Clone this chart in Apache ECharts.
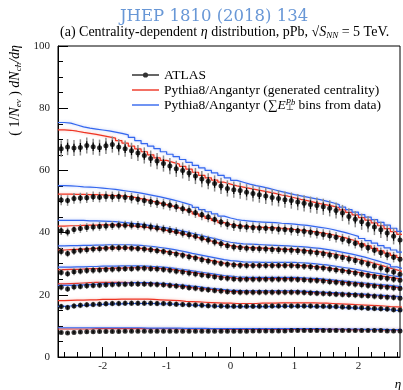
<!DOCTYPE html>
<html>
<head>
<meta charset="utf-8">
<title>Centrality-dependent eta distribution, pPb 5 TeV</title>
<script src="https://cdn.jsdelivr.net/npm/echarts@6/dist/echarts.min.js"></script>
<style>
  html, body { margin: 0; padding: 0; background: #fff; }
  #main { width: 403px; height: 390px; }
</style>
</head>
<body>
<div id="main"></div>
<script>
// eta bin centres (bins are 0.1 wide)
var etaBins = [
  -2.65, -2.55, -2.45, -2.35, -2.25, -2.15, -2.05, -1.95, -1.85,
  -1.75, -1.65, -1.55, -1.45, -1.35, -1.25, -1.15, -1.05, -0.95,
  -0.85, -0.75, -0.65, -0.55, -0.45, -0.35, -0.25, -0.15, -0.05,
  0.05, 0.15, 0.25, 0.35, 0.45, 0.55, 0.65, 0.75, 0.85,
  0.95, 1.05, 1.15, 1.25, 1.35, 1.45, 1.55, 1.65, 1.75,
  1.85, 1.95, 2.05, 2.15, 2.25, 2.35, 2.45, 2.55, 2.65
];
var binHalf = 0.05;

// x axis ticks
var etaMajorTicks = [-2, -1, 0, 1, 2];
var etaMinorTicks = [-2.6, -2.4, -2.2, -1.8, -1.6, -1.4, -1.2, -0.8, -0.6, -0.4, -0.2,
  0.2, 0.4, 0.6, 0.8, 1.2, 1.4, 1.6, 1.8, 2.2, 2.4, 2.6];

var centralities = ['0-1%', '1-5%', '5-10%', '10-20%', '20-30%', '30-40%', '40-60%', '60-90%'];

// ATLAS data
var atlas0to1 = [
  67.0, 67.5, 67.2, 67.4, 68.0, 67.6, 67.3, 67.9, 68.3,
  67.5, 67.0, 66.3, 65.6, 64.8, 63.8, 63.0, 62.2, 61.4,
  60.5, 60.0, 59.2, 58.2, 57.2, 56.5, 55.8, 55.0, 54.2,
  53.8, 53.5, 53.0, 52.6, 52.2, 51.8, 51.3, 51.0, 50.6,
  50.3, 49.8, 49.4, 49.0, 48.7, 48.3, 47.8, 47.1, 46.3,
  45.2, 44.3, 43.5, 42.7, 41.8, 40.9, 39.9, 38.8, 37.6
];
var atlas1to5 = [
  50.5, 50.3, 51.0, 51.1, 51.2, 51.5, 51.4, 51.6, 51.5,
  51.6, 51.4, 51.1, 50.7, 50.3, 49.9, 49.6, 49.2, 48.8,
  48.3, 47.7, 47.1, 46.4, 45.7, 45.0, 44.2, 43.4, 42.7,
  42.2, 42.0, 41.8, 41.6, 41.5, 41.4, 41.3, 41.1, 41.0,
  40.8, 40.6, 40.4, 40.1, 39.8, 39.4, 39.0, 38.5, 37.9,
  37.3, 36.6, 35.9, 35.1, 34.3, 33.5, 32.8, 32.1, 31.4
];
var atlas5to10 = [
  40.6, 40.2, 41.0, 41.3, 41.6, 41.8, 42.0, 42.1, 42.3,
  42.4, 42.4, 42.4, 42.3, 42.1, 41.8, 41.5, 41.1, 40.7,
  40.3, 39.8, 39.3, 38.8, 38.2, 37.6, 37.0, 36.4, 35.8,
  35.4, 35.2, 35.0, 34.9, 34.8, 34.7, 34.6, 34.5, 34.4,
  34.3, 34.2, 34.0, 33.8, 33.5, 33.2, 32.8, 32.4, 32.0,
  31.5, 31.0, 30.5, 29.9, 29.3, 28.6, 28.0, 27.3, 26.6
];
var atlas10to20 = [
  33.9, 33.3, 34.0, 34.3, 34.5, 34.7, 34.8, 35.0, 35.1,
  35.1, 35.1, 35.0, 34.9, 34.7, 34.5, 34.2, 33.9, 33.5,
  33.1, 32.7, 32.2, 31.8, 31.3, 30.9, 30.5, 30.1, 29.8,
  29.6, 29.5, 29.4, 29.4, 29.4, 29.4, 29.4, 29.4, 29.4,
  29.4, 29.3, 29.2, 29.0, 28.8, 28.6, 28.3, 28.0, 27.7,
  27.4, 27.0, 26.6, 26.2, 25.9, 25.6, 25.3, 25.0, 24.7
];
var atlas20to30 = [
  27.2, 26.8, 27.4, 27.6, 27.8, 27.9, 28.0, 28.1, 28.2,
  28.3, 28.4, 28.4, 28.5, 28.5, 28.4, 28.3, 28.1, 27.9,
  27.6, 27.3, 27.0, 26.7, 26.4, 26.1, 25.8, 25.5, 25.3,
  25.1, 25.0, 25.0, 25.0, 25.0, 25.0, 25.0, 25.0, 25.0,
  25.0, 24.9, 24.8, 24.7, 24.6, 24.4, 24.2, 24.0, 23.8,
  23.6, 23.4, 23.2, 23.0, 22.8, 22.6, 22.4, 22.2, 22.0
];
var atlas30to40 = [
  22.4, 21.9, 22.5, 22.7, 22.9, 23.0, 23.1, 23.2, 23.3,
  23.4, 23.4, 23.5, 23.5, 23.5, 23.4, 23.3, 23.2, 23.0,
  22.8, 22.6, 22.3, 22.1, 21.8, 21.6, 21.4, 21.2, 21.0,
  20.9, 20.8, 20.8, 20.8, 20.8, 20.8, 20.8, 20.8, 20.8,
  20.8, 20.8, 20.7, 20.6, 20.5, 20.4, 20.3, 20.2, 20.1,
  20.0, 19.9, 19.8, 19.7, 19.5, 19.4, 19.2, 19.1, 18.9
];
var atlas40to60 = [
  16.2, 15.9, 16.4, 16.6, 16.8, 16.9, 17.0, 17.1, 17.2,
  17.2, 17.3, 17.3, 17.3, 17.3, 17.3, 17.2, 17.2, 17.1,
  17.0, 16.9, 16.8, 16.7, 16.6, 16.5, 16.4, 16.4, 16.3,
  16.3, 16.3, 16.3, 16.3, 16.3, 16.3, 16.4, 16.4, 16.4,
  16.4, 16.4, 16.4, 16.4, 16.3, 16.3, 16.2, 16.2, 16.1,
  16.0, 15.9, 15.8, 15.7, 15.6, 15.5, 15.4, 15.2, 15.1
];
var atlas60to90 = [
  7.9, 7.7, 7.9, 8.0, 8.1, 8.1, 8.2, 8.2, 8.2,
  8.2, 8.3, 8.3, 8.3, 8.3, 8.3, 8.3, 8.3, 8.3,
  8.3, 8.3, 8.3, 8.3, 8.3, 8.3, 8.3, 8.3, 8.3,
  8.3, 8.3, 8.3, 8.4, 8.4, 8.4, 8.4, 8.4, 8.4,
  8.5, 8.5, 8.5, 8.5, 8.5, 8.5, 8.5, 8.5, 8.5,
  8.5, 8.5, 8.5, 8.5, 8.5, 8.5, 8.4, 8.4, 8.4
];
// error bars, one size per class (total and inner part)
var atlasErrTotal = [2.6, 1.7, 1.4, 1.2, 1.1, 1.0, 0.9, 0.5];
var atlasErrInner = [1.4, 0.9, 0.8, 0.7, 0.6, 0.5, 0.5, 0.3];

// Pythia8/Angantyr, generated centrality (red)
var gen0to1 = [
  73.0, 72.9, 72.6, 72.2, 71.9, 71.6, 71.2, 70.8, 70.4,
  69.6, 68.8, 67.8, 66.9, 66.0, 65.0, 64.0, 63.2, 62.6,
  62.0, 61.3, 60.4, 59.4, 58.4, 57.6, 56.9, 56.2, 55.6,
  55.0, 54.6, 54.2, 53.8, 53.4, 53.0, 52.6, 52.1, 51.7,
  51.2, 50.7, 50.3, 49.8, 49.3, 48.9, 48.5, 48.0, 47.3,
  46.5, 45.7, 44.8, 44.0, 43.1, 42.2, 41.3, 40.3, 39.4
];
var gen1to5 = [
  52.4, 52.4, 52.3, 52.3, 52.2, 52.2, 52.1, 52.0, 51.9,
  51.8, 51.6, 51.3, 50.9, 50.5, 50.0, 49.5, 49.0, 48.5,
  47.9, 47.3, 46.7, 46.0, 45.3, 44.6, 43.9, 43.2, 42.6,
  42.3, 42.1, 41.9, 41.8, 41.7, 41.6, 41.5, 41.4, 41.2,
  41.0, 40.8, 40.6, 40.3, 40.0, 39.7, 39.3, 38.8, 38.3,
  37.7, 37.1, 36.4, 35.7, 34.9, 34.1, 33.4, 32.7, 32.0
];
var gen5to10 = [
  42.1, 42.2, 42.2, 42.3, 42.4, 42.4, 42.5, 42.5, 42.5,
  42.4, 42.3, 42.1, 41.9, 41.7, 41.4, 41.1, 40.7, 40.3,
  39.9, 39.4, 38.9, 38.4, 37.8, 37.3, 36.7, 36.2, 35.8,
  35.5, 35.3, 35.2, 35.1, 35.0, 34.9, 34.8, 34.7, 34.6,
  34.5, 34.4, 34.2, 34.0, 33.8, 33.5, 33.2, 32.8, 32.4,
  31.9, 31.4, 30.9, 30.4, 29.8, 29.2, 28.6, 28.0, 27.4
];
var gen10to20 = [
  34.4, 34.5, 34.6, 34.7, 34.8, 34.9, 35.0, 35.1, 35.1,
  35.1, 35.1, 35.0, 34.9, 34.7, 34.5, 34.2, 33.9, 33.6,
  33.2, 32.8, 32.3, 31.9, 31.4, 31.0, 30.6, 30.2, 29.9,
  29.7, 29.6, 29.5, 29.5, 29.5, 29.5, 29.5, 29.5, 29.5,
  29.5, 29.4, 29.3, 29.1, 28.9, 28.7, 28.4, 28.1, 27.8,
  27.5, 27.2, 26.8, 26.5, 26.2, 25.9, 25.6, 25.3, 25.0
];
var gen20to30 = [
  28.1, 28.2, 28.2, 28.3, 28.4, 28.4, 28.5, 28.5, 28.6,
  28.6, 28.7, 28.7, 28.7, 28.7, 28.6, 28.5, 28.3, 28.1,
  27.8, 27.5, 27.2, 26.9, 26.6, 26.3, 26.0, 25.7, 25.5,
  25.3, 25.2, 25.2, 25.2, 25.2, 25.2, 25.2, 25.2, 25.2,
  25.2, 25.1, 25.0, 24.9, 24.8, 24.6, 24.4, 24.2, 24.0,
  23.8, 23.6, 23.4, 23.2, 23.0, 22.8, 22.6, 22.4, 22.2
];
var gen30to40 = [
  23.5, 23.6, 23.7, 23.8, 23.9, 24.0, 24.0, 24.0, 24.0,
  24.0, 23.9, 23.9, 23.8, 23.7, 23.6, 23.4, 23.2, 23.0,
  22.8, 22.6, 22.3, 22.1, 21.9, 21.7, 21.5, 21.3, 21.1,
  21.0, 20.9, 20.9, 20.9, 20.9, 20.9, 20.9, 20.9, 20.9,
  20.9, 20.9, 20.8, 20.7, 20.6, 20.5, 20.4, 20.3, 20.2,
  20.1, 20.0, 19.9, 19.8, 19.7, 19.6, 19.5, 19.4, 19.3
];
var gen40to60 = [
  18.1, 18.2, 18.3, 18.3, 18.4, 18.4, 18.5, 18.5, 18.5,
  18.6, 18.6, 18.6, 18.6, 18.6, 18.5, 18.4, 18.3, 18.2,
  18.1, 17.9, 17.8, 17.7, 17.6, 17.5, 17.4, 17.3, 17.3,
  17.2, 17.2, 17.2, 17.2, 17.3, 17.3, 17.3, 17.4, 17.4,
  17.4, 17.4, 17.4, 17.4, 17.3, 17.3, 17.2, 17.1, 17.0,
  16.9, 16.8, 16.7, 16.6, 16.5, 16.4, 16.2, 16.1, 16.0
];
var gen60to90 = [
  9.0, 9.0, 9.0, 9.0, 9.0, 9.1, 9.1, 9.1, 9.1,
  9.1, 9.1, 9.1, 9.1, 9.1, 9.1, 9.1, 9.1, 9.1,
  9.0, 9.0, 9.0, 9.0, 9.0, 9.0, 9.0, 8.9, 8.9,
  8.9, 8.9, 8.9, 8.9, 8.9, 8.9, 8.9, 8.9, 8.9,
  8.9, 8.9, 8.9, 8.9, 8.9, 8.9, 8.9, 8.9, 8.8,
  8.8, 8.8, 8.8, 8.8, 8.8, 8.7, 8.7, 8.7, 8.7
];

// Pythia8/Angantyr, sum E_T^Pb bins from data (blue)
var et0to1 = [
  75.4, 75.2, 74.6, 74.0, 73.6, 73.3, 73.0, 72.7, 72.3,
  71.9, 71.4, 70.6, 69.6, 68.6, 67.8, 67.0, 66.0, 65.2,
  64.4, 63.5, 62.6, 61.6, 60.8, 60.0, 59.2, 58.4, 57.6,
  56.8, 56.2, 55.6, 55.1, 54.7, 54.2, 53.7, 53.2, 52.7,
  52.2, 51.8, 51.4, 51.0, 50.6, 50.1, 49.6, 49.0, 48.2,
  47.4, 46.6, 45.8, 45.0, 44.2, 43.3, 42.4, 41.4, 40.4
];
var et1to5 = [
  55.1, 55.0, 54.9, 54.7, 54.6, 54.5, 54.3, 54.1, 53.9,
  53.6, 53.3, 53.0, 52.7, 52.3, 51.9, 51.5, 51.0, 50.5,
  50.0, 49.4, 48.8, 48.1, 47.4, 46.7, 46.0, 45.3, 44.7,
  44.2, 43.9, 43.7, 43.5, 43.4, 43.3, 43.2, 43.0, 42.9,
  42.7, 42.5, 42.3, 42.0, 41.7, 41.4, 41.0, 40.5, 40.0,
  39.4, 38.8, 38.1, 37.4, 36.6, 35.8, 35.1, 34.4, 33.7
];
var et5to10 = [
  43.9, 43.9, 43.9, 43.9, 43.8, 43.8, 43.7, 43.6, 43.5,
  43.3, 43.1, 42.9, 42.7, 42.4, 42.1, 41.8, 41.5, 41.1,
  40.7, 40.3, 39.8, 39.3, 38.8, 38.3, 37.8, 37.3, 36.9,
  36.6, 36.4, 36.3, 36.2, 36.1, 36.0, 35.9, 35.8, 35.7,
  35.6, 35.5, 35.3, 35.1, 34.9, 34.6, 34.3, 33.9, 33.5,
  33.1, 32.6, 32.1, 31.5, 30.9, 30.3, 29.7, 29.0, 28.4
];
var et10to20 = [
  35.7, 35.8, 35.8, 35.9, 35.9, 36.0, 36.0, 36.1, 36.1,
  36.1, 36.1, 36.0, 35.9, 35.7, 35.5, 35.2, 34.9, 34.6,
  34.2, 33.8, 33.3, 32.9, 32.5, 32.1, 31.7, 31.3, 31.0,
  30.8, 30.6, 30.5, 30.5, 30.4, 30.4, 30.4, 30.4, 30.4,
  30.4, 30.3, 30.2, 30.0, 29.8, 29.6, 29.3, 29.0, 28.7,
  28.4, 28.0, 27.6, 27.2, 26.9, 26.6, 26.2, 25.9, 25.6
];
var et20to30 = [
  28.9, 28.9, 29.0, 29.0, 29.1, 29.1, 29.2, 29.2, 29.2,
  29.3, 29.3, 29.3, 29.3, 29.2, 29.1, 29.0, 28.8, 28.6,
  28.3, 28.0, 27.7, 27.4, 27.1, 26.8, 26.5, 26.2, 26.0,
  25.8, 25.7, 25.6, 25.6, 25.6, 25.6, 25.6, 25.6, 25.6,
  25.6, 25.5, 25.4, 25.3, 25.2, 25.0, 24.8, 24.6, 24.4,
  24.2, 24.0, 23.8, 23.6, 23.4, 23.2, 23.0, 22.8, 22.6
];
var et30to40 = [
  23.0, 23.0, 23.1, 23.2, 23.3, 23.4, 23.5, 23.6, 23.7,
  23.8, 23.8, 23.9, 23.9, 23.9, 23.8, 23.7, 23.6, 23.4,
  23.2, 23.0, 22.8, 22.6, 22.3, 22.1, 21.9, 21.7, 21.5,
  21.4, 21.3, 21.3, 21.3, 21.3, 21.3, 21.3, 21.3, 21.3,
  21.3, 21.2, 21.1, 21.0, 20.9, 20.8, 20.7, 20.6, 20.5,
  20.4, 20.3, 20.2, 20.0, 19.9, 19.8, 19.6, 19.5, 19.4
];
var et40to60 = [
  16.3, 16.4, 16.5, 16.6, 16.7, 16.8, 16.9, 17.0, 17.1,
  17.1, 17.2, 17.2, 17.2, 17.2, 17.2, 17.1, 17.1, 17.0,
  16.9, 16.8, 16.7, 16.6, 16.5, 16.4, 16.3, 16.3, 16.2,
  16.2, 16.2, 16.2, 16.2, 16.2, 16.2, 16.2, 16.3, 16.3,
  16.3, 16.3, 16.3, 16.2, 16.2, 16.1, 16.1, 16.0, 15.9,
  15.8, 15.7, 15.6, 15.5, 15.4, 15.3, 15.2, 15.0, 14.9
];
var et60to90 = [
  9.4, 9.4, 9.4, 9.4, 9.4, 9.4, 9.4, 9.4, 9.4,
  9.4, 9.4, 9.4, 9.4, 9.3, 9.3, 9.3, 9.3, 9.3,
  9.3, 9.2, 9.2, 9.2, 9.2, 9.1, 9.1, 9.1, 9.1,
  9.1, 9.1, 9.1, 9.1, 9.1, 9.1, 9.1, 9.1, 9.1,
  9.1, 9.1, 9.1, 9.1, 9.1, 9.0, 9.0, 9.0, 9.0,
  9.0, 9.0, 8.9, 8.9, 8.9, 8.9, 8.8, 8.8, 8.8
];

var atlasSets = [atlas0to1, atlas1to5, atlas5to10, atlas10to20, atlas20to30, atlas30to40, atlas40to60, atlas60to90];
var genSets = [gen0to1, gen1to5, gen5to10, gen10to20, gen20to30, gen30to40, gen40to60, gen60to90];
var etSets = [et0to1, et1to5, et5to10, et10to20, et20to30, et30to40, et40to60, et60to90];

var genName = 'Pythia8/Angantyr (generated centrality)';
var etName = 'Pythia8/Angantyr (sum E bins from data)';
var serif = 'Liberation Serif';
var red = '#ee3322';
var blue = '#3366ee';

// step histogram: each bin drawn as a flat segment across its width
function histPoints(values) {
  var pts = [];
  for (var i = 0; i < etaBins.length; i++) {
    pts.push([etaBins[i] - binHalf, values[i]]);
    pts.push([etaBins[i] + binHalf, values[i]]);
  }
  return pts;
}

function errorBar(params, api) {
  var x = api.value(0), y = api.value(1);
  var eo = api.value(2), ei = api.value(3);
  var a = api.coord([x, y + eo]), b = api.coord([x, y - eo]);
  var c = api.coord([x, y + ei]), d = api.coord([x, y - ei]);
  return {
    type: 'group',
    children: [
      { type: 'line', shape: { x1: a[0], y1: a[1], x2: b[0], y2: b[1] }, style: { stroke: '#8c8c8c', lineWidth: 1.5 } },
      { type: 'line', shape: { x1: c[0], y1: c[1], x2: d[0], y2: d[1] }, style: { stroke: '#000', lineWidth: 1.2 } }
    ]
  };
}

var series = [];
genSets.forEach(function (vals) {
  series.push({
    type: 'line', name: genName, data: histPoints(vals), symbol: 'none', silent: true, z: 2,
    itemStyle: { color: red },
    lineStyle: { color: red, width: 1.2, shadowColor: 'rgba(240,90,70,0.45)', shadowBlur: 3 }
  });
});
etSets.forEach(function (vals) {
  series.push({
    type: 'line', name: etName, data: histPoints(vals), symbol: 'none', silent: true, z: 2,
    itemStyle: { color: blue },
    lineStyle: { color: blue, width: 1.2, shadowColor: 'rgba(80,120,240,0.45)', shadowBlur: 3 }
  });
});
atlasSets.forEach(function (vals, k) {
  series.push({
    type: 'scatter', name: 'ATLAS', silent: true, z: 5,
    data: etaBins.map(function (e, i) { return [e, vals[i]]; }),
    symbol: 'circle', symbolSize: 5, itemStyle: { color: '#000' }
  });
  series.push({
    type: 'custom', name: 'ATLAS ' + centralities[k] + ' errors', silent: true, z: 4,
    renderItem: errorBar, clip: true,
    data: etaBins.map(function (e, i) { return [e, vals[i], atlasErrTotal[k], atlasErrInner[k]]; })
  });
});

var chart = echarts.init(document.getElementById('main'), null, { renderer: 'canvas' });
chart.setOption({
  animation: false,
  backgroundColor: '#fff',
  title: [
    {
      text: 'JHEP 1810 (2018) 134', left: 115, top: 3,
      textStyle: { color: '#6897d6', fontFamily: 'DejaVu Serif', fontSize: 16.5, fontWeight: 'normal' }
    },
    {
      text: '(a) Centrality-dependent {i|η} distribution, pPb, √{i|S}{sub|NN} = 5 TeV.', left: 55, top: 19,
      textStyle: {
        color: '#000', fontFamily: serif, fontSize: 14, fontWeight: 'normal', lineHeight: 16,
        rich: {
          i: { fontFamily: serif, fontSize: 14, fontStyle: 'italic', color: '#000', lineHeight: 16 },
          sub: { fontFamily: serif, fontSize: 9, fontStyle: 'italic', color: '#000', verticalAlign: 'bottom', lineHeight: 16 }
        }
      }
    }
  ],
  legend: {
    left: 127, top: 63, orient: 'vertical', itemWidth: 27, itemHeight: 10, itemGap: 1,
    selectedMode: false,
    textStyle: {
      fontFamily: serif, fontSize: 13.5, color: '#000', lineHeight: 14,
      rich: {
        s: { fontFamily: serif, fontSize: 13.5, color: '#000', lineHeight: 14 },
        i: { fontFamily: serif, fontSize: 13.5, fontStyle: 'italic', color: '#000', lineHeight: 14 },
        perp: { fontFamily: serif, fontSize: 8.5, color: '#000', verticalAlign: 'bottom', lineHeight: 14, width: 0 },
        sup: { fontFamily: serif, fontSize: 8.5, fontStyle: 'italic', color: '#000', verticalAlign: 'top', lineHeight: 14 }
      }
    },
    formatter: function (name) {
      if (name === etName) return 'Pythia8/Angantyr ({s|∑}{i|E}{perp|⊥}{sup|Pb} bins from data)';
      return name;
    },
    data: [
      { name: 'ATLAS', icon: 'path://M0,4.3h27v1.4h-27z M10.9,5a2.6,2.6 0 1,1 5.2,0a2.6,2.6 0 1,1 -5.2,0z' },
      { name: genName, icon: 'path://M0,0h27v1.4h-27z' },
      { name: etName, icon: 'path://M0,0h27v1.4h-27z' }
    ]
  },
  grid: { left: 58, right: 3, top: 46, bottom: 33, show: true, borderColor: '#000', borderWidth: 1, backgroundColor: 'transparent' },
  xAxis: [
    {
      type: 'value', min: -2.7, max: 2.65, position: 'bottom',
      axisLine: { onZero: false, lineStyle: { color: '#000', width: 1 } },
      axisTick: { inside: true, length: 10, customValues: etaMajorTicks, lineStyle: { color: '#000' } },
      splitLine: { show: false },
      axisLabel: { margin: 4, customValues: etaMajorTicks, color: '#222', fontFamily: serif, fontSize: 11 }
    },
    {
      type: 'value', min: -2.7, max: 2.65, position: 'bottom', offset: 0,
      axisLine: { show: false, onZero: false },
      axisTick: { inside: true, length: 5, customValues: etaMinorTicks, lineStyle: { color: '#000' } },
      splitLine: { show: false },
      axisLabel: { show: false }
    }
  ],
  yAxis: {
    type: 'value', min: 0, max: 100, interval: 20,
    axisLine: { onZero: false, lineStyle: { color: '#000', width: 1 } },
    axisTick: { inside: true, length: 10, lineStyle: { color: '#000' } },
    minorTick: { show: true, splitNumber: 4, length: 5, lineStyle: { color: '#000' } },
    splitLine: { show: false },
    axisLabel: { margin: 8, color: '#222', fontFamily: serif, fontSize: 11 }
  },
  graphic: [
    {
      type: 'text', x: 15, y: 45, rotation: Math.PI / 2, silent: true,
      style: {
        text: '( 1/{i|N}{sub|ev} ) {i|dN}{sub|ch}{i|/dη}',
        align: 'right', verticalAlign: 'middle', fill: '#000',
        fontFamily: serif, fontSize: 14,
        rich: {
          i: { fontFamily: serif, fontSize: 14, fontStyle: 'italic', fill: '#000', lineHeight: 16 },
          sub: { fontFamily: serif, fontSize: 9, fontStyle: 'italic', fill: '#000', verticalAlign: 'bottom', lineHeight: 16 }
        }
      }
    },
    {
      type: 'text', x: 398, y: 385, silent: true,
      style: { text: 'η', align: 'center', verticalAlign: 'middle', fill: '#000', fontFamily: serif, fontSize: 13, fontStyle: 'italic' }
    }
  ],
  series: series
});
</script>
</body>
</html>
